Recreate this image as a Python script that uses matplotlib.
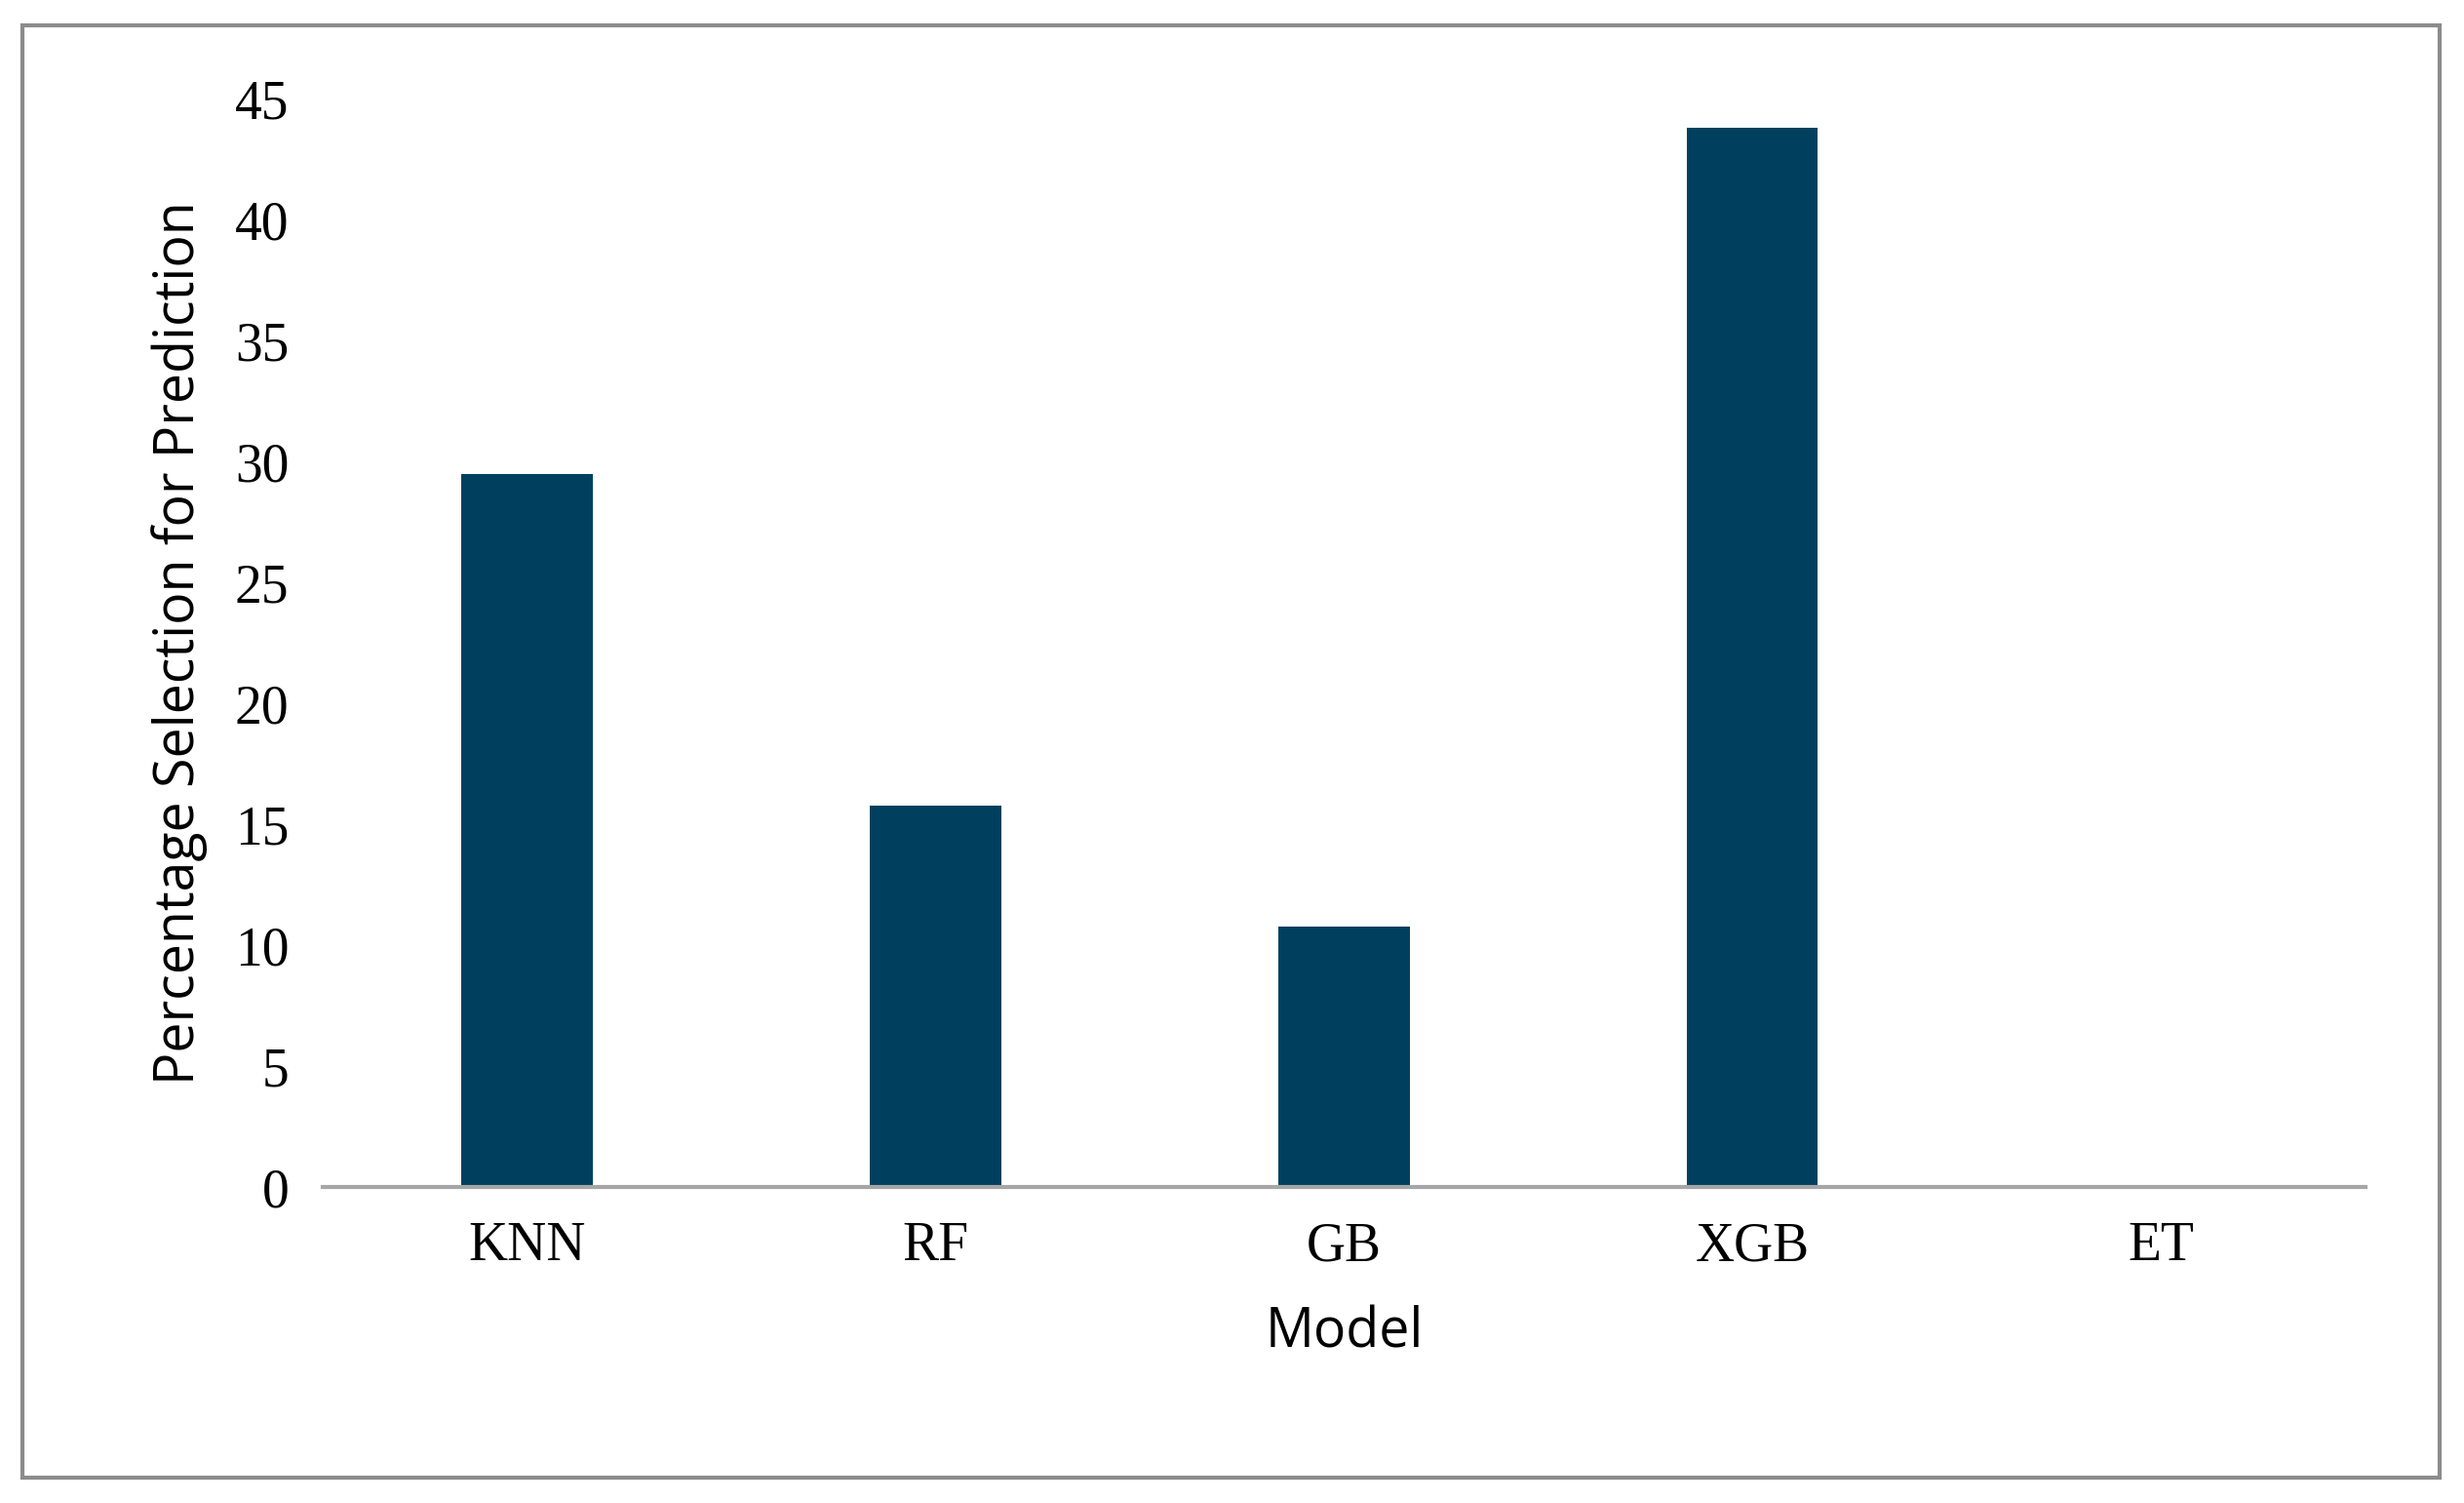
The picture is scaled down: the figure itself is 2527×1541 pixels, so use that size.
import matplotlib
matplotlib.use("Agg")
import matplotlib.pyplot as plt
from matplotlib.patches import Rectangle

models = ["KNN", "RF", "GB", "XGB", "ET"]
values = [29.5, 15.8, 10.8, 43.8, 0.0]
yticks = [0, 5, 10, 15, 20, 25, 30, 35, 40, 45]

fig = plt.figure(figsize=(25.27, 15.41), dpi=100)
ax = fig.add_axes([0.131, 0.21, 0.829, 0.724])
ax.bar(range(len(models)), values, width=0.32, color="#00405E")
ax.set_xlim(-0.5, len(models) - 0.5)
ax.set_ylim(0, 45)
ax.set_yticks(yticks)
ax.set_xticks(range(len(models)))
ax.set_xticklabels(models)
for s in ["top", "right", "left"]:
    ax.spines[s].set_visible(False)
ax.spines["bottom"].set_color("#A6A6A6")
ax.spines["bottom"].set_linewidth(3)
ax.tick_params(axis="both", length=0, labelsize=40, pad=25)
for lab in ax.get_xticklabels() + ax.get_yticklabels():
    lab.set_fontfamily("Liberation Serif")
ax.set_xlabel("Model", fontsize=40, family="Open Sans", labelpad=25)
ax.set_ylabel("Percentage Selection for Prediction", fontsize=40, family="Open Sans", labelpad=20)
fig.patches.append(Rectangle((0.009, 0.017), 0.981, 0.966, transform=fig.transFigure,
                             fill=False, edgecolor="#8C8C8C", linewidth=3))
fig.savefig("out.png", dpi=100, facecolor="white")
